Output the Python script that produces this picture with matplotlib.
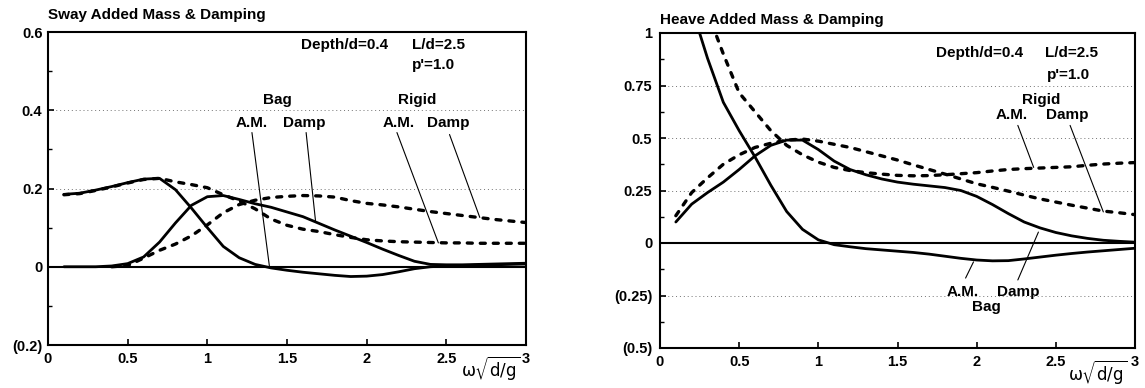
import matplotlib
matplotlib.use("Agg")
import matplotlib.pyplot as plt
from matplotlib.ticker import MultipleLocator, FixedLocator, FixedFormatter

plt.rcParams['font.family'] = ['Liberation Sans', 'DejaVu Sans']
plt.rcParams['mathtext.fontset'] = 'dejavusans'

# ---------------- data : Sway (left) ----------------
sway_x = [0.1, 0.2, 0.3, 0.4, 0.5, 0.6, 0.7, 0.8, 0.9, 1.0, 1.1, 1.2, 1.3, 1.4, 1.5,
          1.6, 1.7, 1.8, 1.9, 2.0, 2.1, 2.2, 2.3, 2.4, 2.5, 2.6, 2.7, 2.8, 2.9, 3.0]
sway_bag_am = [0.185, 0.188, 0.196, 0.205, 0.215, 0.224, 0.226, 0.197, 0.150, 0.100,
               0.052, 0.023, 0.006, -0.003, -0.009, -0.014, -0.018, -0.022, -0.025, -0.024,
               -0.020, -0.013, -0.005, 0.000, 0.002, 0.003, 0.004, 0.005, 0.006, 0.007]
sway_bag_damp = [0.0, 0.0, 0.0, 0.002, 0.008, 0.025, 0.063, 0.112, 0.157, 0.179,
                 0.182, 0.172, 0.161, 0.152, 0.140, 0.128, 0.111, 0.094, 0.078, 0.062,
                 0.045, 0.029, 0.014, 0.006, 0.005, 0.005, 0.006, 0.007, 0.008, 0.009]
sway_rigid_am = [0.184, 0.187, 0.195, 0.204, 0.214, 0.223, 0.226, 0.217, 0.210, 0.202,
                 0.184, 0.168, 0.148, 0.122, 0.106, 0.096, 0.090, 0.082, 0.075, 0.069,
                 0.066, 0.064, 0.063, 0.062, 0.061, 0.061, 0.060, 0.060, 0.060, 0.060]
sway_rigid_damp_x = [0.4, 0.5, 0.6, 0.7, 0.8, 0.9, 1.0, 1.1, 1.2, 1.3, 1.4, 1.5, 1.6, 1.7,
                     1.8, 1.9, 2.0, 2.1, 2.2, 2.3, 2.4, 2.5, 2.6, 2.7, 2.8, 2.9, 3.0]
sway_rigid_damp = [0.0, 0.003, 0.022, 0.042, 0.058, 0.079, 0.107, 0.138, 0.159, 0.170,
                   0.177, 0.180, 0.182, 0.181, 0.178, 0.169, 0.162, 0.158, 0.153, 0.147,
                   0.141, 0.136, 0.131, 0.126, 0.121, 0.117, 0.113]

# ---------------- data : Heave (right) ----------------
heave_x = [0.1, 0.2, 0.3, 0.4, 0.5, 0.6, 0.7, 0.8, 0.9, 1.0, 1.1, 1.2, 1.3, 1.4, 1.5,
           1.6, 1.7, 1.8, 1.9, 2.0, 2.1, 2.2, 2.3, 2.4, 2.5, 2.6, 2.7, 2.8, 2.9, 3.0]
heave_bag_am_x = [0.2, 0.3, 0.4, 0.5, 0.6, 0.7, 0.8, 0.9, 1.0, 1.1, 1.2, 1.3, 1.4, 1.5,
                  1.6, 1.7, 1.8, 1.9, 2.0, 2.1, 2.2, 2.3, 2.4, 2.5, 2.6, 2.7, 2.8, 2.9, 3.0]
heave_bag_am = [1.12, 0.88, 0.67, 0.535, 0.41, 0.275, 0.15, 0.065, 0.015, -0.008,
                -0.018, -0.027, -0.033, -0.039, -0.045, -0.053, -0.063, -0.073, -0.081, -0.085,
                -0.084, -0.076, -0.067, -0.058, -0.050, -0.043, -0.037, -0.031, -0.025]
heave_bag_damp = [0.10, 0.185, 0.24, 0.29, 0.35, 0.415, 0.465, 0.49, 0.49, 0.445,
                  0.39, 0.35, 0.325, 0.305, 0.29, 0.28, 0.272, 0.264, 0.25, 0.222,
                  0.183, 0.14, 0.10, 0.072, 0.05, 0.034, 0.022, 0.013, 0.008, 0.004]
heave_rigid_am_x = [0.3, 0.4, 0.5, 0.6, 0.7, 0.8, 0.9, 1.0, 1.1, 1.2, 1.3, 1.4, 1.5, 1.6,
                    1.7, 1.8, 1.9, 2.0, 2.1, 2.2, 2.3, 2.4, 2.5, 2.6, 2.7, 2.8, 2.9, 3.0]
heave_rigid_am = [1.10, 0.90, 0.715, 0.625, 0.535, 0.465, 0.42, 0.385, 0.36, 0.345,
                  0.335, 0.328, 0.322, 0.32, 0.321, 0.325, 0.33, 0.335, 0.343, 0.35,
                  0.354, 0.357, 0.36, 0.363, 0.37, 0.376, 0.38, 0.383]
heave_rigid_damp = [0.13, 0.24, 0.31, 0.375, 0.42, 0.455, 0.475, 0.49, 0.495, 0.485,
                    0.47, 0.455, 0.435, 0.415, 0.395, 0.372, 0.35, 0.328, 0.305, 0.282,
                    0.265, 0.247, 0.228, 0.21, 0.195, 0.18, 0.166, 0.152, 0.144, 0.135]

x_ticks = [0, 0.5, 1, 1.5, 2, 2.5, 3]
x_tick_labels = ["0", "0.5", "1", "1.5", "2", "2.5", "3"]
sway_yticks = [-0.2, 0, 0.2, 0.4, 0.6]
sway_ytick_labels = ["(0.2)", "0", "0.2", "0.4", "0.6"]
heave_yticks = [-0.5, -0.25, 0, 0.25, 0.5, 0.75, 1]
heave_ytick_labels = ["(0.5)", "(0.25)", "0", "0.25", "0.5", "0.75", "1"]

W, H = 1145, 388
fig = plt.figure(figsize=(W / 100, H / 100), dpi=100)
ax1 = fig.add_axes([48 / W, 1 - 345 / H, (526 - 48) / W, (345 - 32) / H])
ax2 = fig.add_axes([660 / W, 1 - 348 / H, (1135 - 660) / W, (348 - 33) / H])

solid = dict(color='black', lw=2.0, solid_capstyle='round', solid_joinstyle='round')
dashed = dict(color='black', lw=2.4, dashes=(1.5, 2.4), dash_capstyle='round')
TXT = dict(fontsize=11, fontweight='bold', ha='center', va='center')
LEAD = dict(arrowstyle='-', lw=0.8, color='black', shrinkA=0, shrinkB=0)
XLAB = r'$\mathrm{\omega}\sqrt{\mathrm{d/g}}$'


def style(ax, yticks, ylabels, ylim, minor, ypad):
    ax.set_xlim(0, 3)
    ax.set_ylim(*ylim)
    ax.xaxis.set_major_locator(FixedLocator(x_ticks))
    ax.xaxis.set_major_formatter(FixedFormatter(x_tick_labels))
    ax.yaxis.set_major_locator(FixedLocator(yticks))
    ax.yaxis.set_major_formatter(FixedFormatter(ylabels))
    ax.yaxis.set_minor_locator(MultipleLocator(minor))
    ax.tick_params(which='major', direction='in', length=4, width=1.2,
                   labelsize=10.5, pad=ypad)
    ax.tick_params(axis='x', pad=5)
    ax.tick_params(which='minor', direction='in', length=3, width=1.0)
    for lab in ax.get_xticklabels() + ax.get_yticklabels():
        lab.set_fontweight('bold')
    for sp in ax.spines.values():
        sp.set_linewidth(1.5)
    ax.yaxis.grid(True, linestyle=(0, (1, 3)), color='0.45', lw=0.7)
    ax.set_axisbelow(True)
    ax.axhline(0, color='black', lw=1.5, zorder=2)


# ---------------- left panel ----------------
style(ax1, sway_yticks, sway_ytick_labels, (-0.2, 0.6), 0.1, 4)
ax1.plot(sway_x, sway_bag_am, **solid)
ax1.plot(sway_x, sway_bag_damp, **solid)
ax1.plot(sway_x, sway_rigid_am, **dashed)
ax1.plot(sway_rigid_damp_x, sway_rigid_damp, **dashed)

ax1.text(1.86, 0.567, "Depth/d=0.4", **TXT)
ax1.text(2.45, 0.567, "L/d=2.5", **TXT)
ax1.text(2.42, 0.515, "p'=1.0", **TXT)
ax1.text(1.44, 0.427, "Bag", **TXT)
ax1.text(1.28, 0.368, "A.M.", **TXT)
ax1.text(1.61, 0.368, "Damp", **TXT)
ax1.text(2.32, 0.427, "Rigid", **TXT)
ax1.text(2.20, 0.368, "A.M.", **TXT)
ax1.text(2.51, 0.368, "Damp", **TXT)
ax1.annotate('', xy=(1.39, 0.0), xytext=(1.28, 0.343), arrowprops=LEAD)
ax1.annotate('', xy=(1.68, 0.113), xytext=(1.62, 0.343), arrowprops=LEAD)
ax1.annotate('', xy=(2.45, 0.061), xytext=(2.19, 0.343), arrowprops=LEAD)
ax1.annotate('', xy=(2.71, 0.126), xytext=(2.52, 0.338), arrowprops=LEAD)
ax1.text(0.925, -0.075, XLAB, transform=ax1.transAxes,
         fontsize=12, ha='center', va='center')

# ---------------- right panel ----------------
style(ax2, heave_yticks, heave_ytick_labels, (-0.5, 1.0), 0.125, 5.5)
ax2.plot(heave_bag_am_x, heave_bag_am, **solid)
ax2.plot(heave_x, heave_bag_damp, **solid)
ax2.plot(heave_rigid_am_x, heave_rigid_am, **dashed)
ax2.plot(heave_x, heave_rigid_damp, **dashed)

ax2.text(2.02, 0.905, "Depth/d=0.4", **TXT)
ax2.text(2.60, 0.905, "L/d=2.5", **TXT)
ax2.text(2.58, 0.80, "p'=1.0", **TXT)
ax2.text(2.41, 0.68, "Rigid", **TXT)
ax2.text(2.22, 0.61, "A.M.", **TXT)
ax2.text(2.57, 0.61, "Damp", **TXT)
ax2.annotate('', xy=(2.36, 0.36), xytext=(2.26, 0.56), arrowprops=LEAD)
ax2.annotate('', xy=(2.80, 0.148), xytext=(2.59, 0.56), arrowprops=LEAD)
ax2.text(1.91, -0.233, "A.M.", **TXT)
ax2.text(2.26, -0.233, "Damp", **TXT)
ax2.text(2.06, -0.305, "Bag", **TXT)
ax2.annotate('', xy=(1.98, -0.09), xytext=(1.93, -0.167), arrowprops=LEAD)
ax2.annotate('', xy=(2.39, 0.052), xytext=(2.26, -0.176), arrowprops=LEAD)
ax2.text(0.922, -0.078, XLAB, transform=ax2.transAxes,
         fontsize=12, ha='center', va='center')

fig.text(48 / W, 1 - 15 / H, "Sway Added Mass & Damping", fontsize=11,
         fontweight='bold', ha='left', va='center')
fig.text(660 / W, 1 - 20 / H, "Heave Added Mass & Damping", fontsize=11,
         fontweight='bold', ha='left', va='center')

fig.savefig("out.png", dpi=100)
